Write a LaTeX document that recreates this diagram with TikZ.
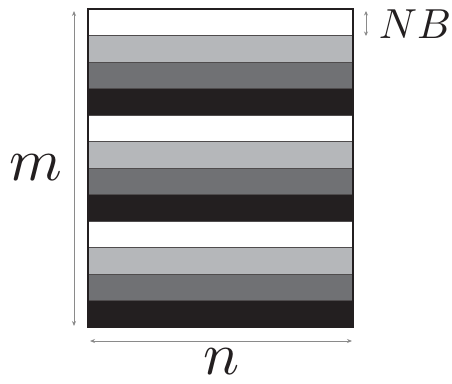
\documentclass[tikz,border=0pt]{standalone}
\usepackage{amsmath,amssymb}
\usetikzlibrary{arrows.meta,positioning,calc}
\definecolor{light}{HTML}{B5B7BA}
\definecolor{mid}{HTML}{707174}
\definecolor{dark}{HTML}{231F20}
\definecolor{dimgray}{HTML}{8A8A8A}

\begin{document}
\begin{tikzpicture}[x=1pt,y=1pt,>={Stealth[length=5pt,width=4pt]},
        dim/.style={<->,dimgray,line width=0.9pt},
        stripe/.style={draw=dark!80,line width=0.4pt},
        lab/.style={inner sep=0pt,text=dark}]
      \useasboundingbox (0,0) rectangle (452,383);
      % bands, four shades repeated three times
      \foreach \k in {0,1,2}{
        \foreach \c [count=\j from 0] in {white,light,mid,dark}{
          \pgfmathsetmacro{\top}{374-26.5*(4*\k+\j)}
          \fill[\c,stripe] (88,\top) rectangle (353,\top-26.5);
        }
      }
      \draw[dark,line width=1.1pt] (88,56) rectangle (353,374);
      % dimension lines
      \coordinate (mtop) at (74,372);
      \coordinate (mbot) at (74,57);
      \coordinate (nl) at (90,42);
      \coordinate (nr) at (352,42);
      \coordinate (bt) at (366,372);
      \coordinate (bb) at (366,347);
      \draw[dim] (mtop) -- (mbot);
      \draw[dim] (nl) -- (nr);
      \draw[dim,line width=0.8pt,>={Stealth[length=4.5pt,width=4pt]}] (bt) -- (bb);
      \node[lab,scale=6.0] (m) at (36,215) {$m$};
      \node[lab,scale=6.0] (n) at (222,21) {$n$};
      \node[lab,scale=4.2,anchor=west] (nb) at (378,359) {$NB$};
    \end{tikzpicture}
\end{document}
